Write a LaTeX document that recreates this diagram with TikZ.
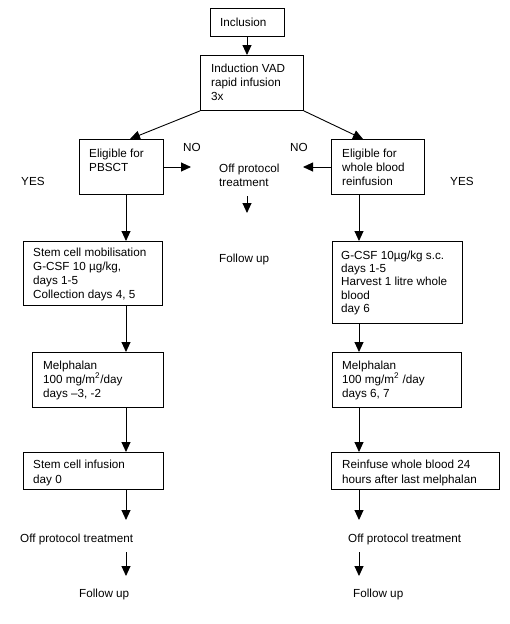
\documentclass[tikz,border=0pt]{standalone}
\usepackage{fontspec}
\setmainfont{Liberation Sans}
\usetikzlibrary{arrows.meta}
\begin{document}
\begin{tikzpicture}[x=1pt,y=-1pt,
  box/.style={draw, line width=0.9pt, inner sep=0pt, anchor=north west},
  txt/.style={inner sep=0pt, anchor=base west, align=left, font=\fontsize{11.7}{14}\selectfont},
  arr/.style={line width=0.9pt, -{Triangle[width=9pt,length=10pt]}}]
\useasboundingbox (0,0) rectangle (510,624);
% boxes
\node[box, minimum width=74, minimum height=28] (inc) at (210,8) {};
\node[box, minimum width=103, minimum height=55] (ind) at (200,55) {};
\node[box, minimum width=84, minimum height=55] (elL) at (79,139) {};
\node[box, minimum width=93, minimum height=55] (elR) at (331,139) {};
\node[box, minimum width=139, minimum height=64] (stem) at (23,241) {};
\node[box, minimum width=130, minimum height=82] (gcsf) at (332,241) {};
\node[box, minimum width=131, minimum height=55] (melL) at (32,352) {};
\node[box, minimum width=129, minimum height=55] (melR) at (332,352) {};
\node[box, minimum width=140, minimum height=37] (sci) at (23,452) {};
\node[box, minimum width=168, minimum height=37] (rwb) at (331,452) {};
% texts (base anchor = baseline of the last line)
\node[txt] (tinc) at (220,26) {Inclusion};
\node[txt] (tind) at (211,100.5) {Induction VAD\\rapid infusion\\3x};
\node[txt] (noL) at (183,151) {NO};
\node[txt] (noR) at (290,151) {NO};
\node[txt] (telL) at (89,171) {Eligible for\\PBSCT};
\node[txt] (telR) at (342,185) {Eligible for\\whole blood\\reinfusion};
\node[txt] (yesL) at (21,185) {YES};
\node[txt] (yesR) at (450,185) {YES};
\node[txt] (off) at (219,186.5) {Off protocol\\treatment};
\node[txt] (fu) at (219,262.5) {Follow up};
\node[txt, font=\fontsize{11.7}{13.7}\selectfont] (tstem) at (33,298) {Stem cell mobilisation\\G-CSF 10 µg/kg,\\days 1-5\\Collection days 4, 5};
\node[txt, font=\fontsize{11.7}{13.3}\selectfont] (tgcsf) at (341,312.5) {G-CSF 10µg/kg s.c.\\days 1-5\\Harvest 1 litre whole\\blood\\day 6};
\node[txt] (tmelL) at (43,397) {Melphalan\\100 mg/m\textsuperscript{2}/day\\days –3, -2};
\node[txt] (tmelR) at (342,397) {Melphalan\\100 mg/m\textsuperscript{2} /day\\days 6, 7};
\node[txt, font=\fontsize{11.7}{15}\selectfont] (tsci) at (33,483) {Stem cell infusion\\day 0};
\node[txt, font=\fontsize{11.7}{15}\selectfont] (trwb) at (342,483) {Reinfuse whole blood 24\\hours after last melphalan};
\node[txt] (offL) at (20,542) {Off protocol treatment};
\node[txt] (offR) at (348,542) {Off protocol treatment};
\node[txt] (fuL) at (79,597) {Follow up};
\node[txt] (fuR) at (353,597) {Follow up};
% free-end coordinates
\coordinate (aL) at (191,167);
\coordinate (aR) at (303,167);
\coordinate (offtop) at (247,196);
\coordinate (offbot) at (247,213);
\coordinate (dL1) at (126,520);
\coordinate (dL2) at (126,552);
\coordinate (dL3) at (126,576);
\coordinate (dR1) at (359,520);
\coordinate (dR2) at (359,552);
\coordinate (dR3) at (359,576);
% connectors
\draw[arr] ([xshift=37pt]inc.south west) -- ([xshift=47pt]ind.north west);
\draw[arr] (ind.south west) -- ([xshift=51pt]elL.north west);
\draw[arr] (ind.south east) -- ([xshift=32pt]elR.north west);
\draw[arr] ([yshift=-28pt]elL.north east) -- (aL);
\draw[arr] ([yshift=-28pt]elR.north west) -- (aR);
\draw[arr] (offtop) -- (offbot);
\draw[arr] ([xshift=47pt]elL.south west) -- ([xshift=103pt]stem.north west);
\draw[arr] ([xshift=103pt]stem.south west) -- ([xshift=94pt]melL.north west);
\draw[arr] ([xshift=94pt]melL.south west) -- ([xshift=103pt]sci.north west);
\draw[arr] ([xshift=103pt]sci.south west) -- (dL1);
\draw[arr] (dL2) -- (dL3);
\draw[arr] ([xshift=28pt]elR.south west) -- ([xshift=27pt]gcsf.north west);
\draw[arr] ([xshift=27pt]gcsf.south west) -- ([xshift=27pt]melR.north west);
\draw[arr] ([xshift=27pt]melR.south west) -- ([xshift=28pt]rwb.north west);
\draw[arr] ([xshift=28pt]rwb.south west) -- (dR1);
\draw[arr] (dR2) -- (dR3);
\end{tikzpicture}
\end{document}
